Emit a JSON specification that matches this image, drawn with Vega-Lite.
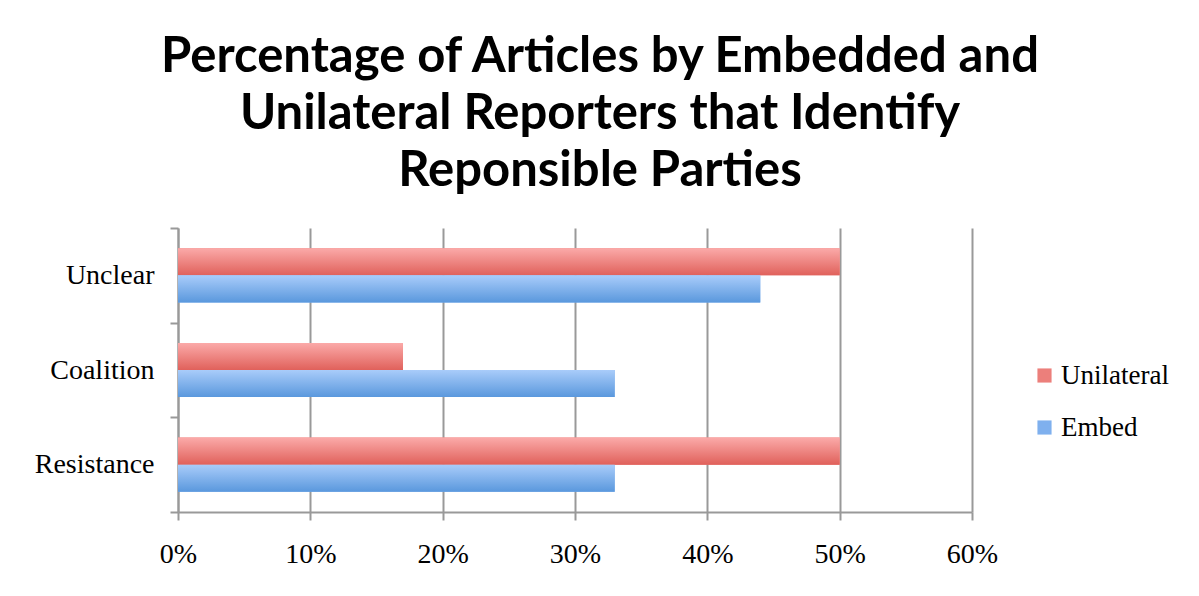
{
  "$schema": "https://vega.github.io/schema/vega-lite/v6.json",
  "width": 794,
  "height": 284,
  "autosize": "none",
  "padding": {"left": 178, "top": 228, "right": 227, "bottom": 84},
  "background": "white",
  "title": {
    "text": ["Percentage of Articles by Embedded and", "Unilateral Reporters that Identify", "Reponsible Parties"],
    "font": "Lato",
    "fontSize": 49,
    "fontWeight": "bold",
    "color": "black",
    "lineHeight": 57,
    "anchor": "middle",
    "dx": 25,
    "offset": 18
  },
  "data": {
    "values": [
      {"category": "Unclear", "series": "Unilateral", "value": 0.50},
      {"category": "Unclear", "series": "Embed", "value": 0.44},
      {"category": "Coalition", "series": "Unilateral", "value": 0.17},
      {"category": "Coalition", "series": "Embed", "value": 0.33},
      {"category": "Resistance", "series": "Unilateral", "value": 0.50},
      {"category": "Resistance", "series": "Embed", "value": 0.33}
    ]
  },
  "encoding": {
    "y": {
      "field": "category",
      "type": "nominal",
      "sort": ["Unclear", "Coalition", "Resistance"],
      "scale": {"paddingInner": 0, "paddingOuter": 0},
      "axis": {
        "title": null,
        "tickBand": "extent",
        "labelFont": "Liberation Serif",
        "labelFontSize": 28,
        "labelColor": "black",
        "labelPadding": 16,
        "tickSize": 8,
        "tickColor": "#999999",
        "tickWidth": 2,
        "domainColor": "#999999",
        "domainWidth": 2,
        "grid": false
      }
    },
    "yOffset": {
      "field": "series",
      "type": "nominal",
      "sort": ["Unilateral", "Embed"],
      "scale": {"paddingInner": 0, "paddingOuter": 0.75}
    },
    "x": {
      "field": "value",
      "type": "quantitative",
      "scale": {"domain": [0, 0.6]},
      "axis": {
        "title": null,
        "format": ".0%",
        "values": [0, 0.1, 0.2, 0.3, 0.4, 0.5, 0.6],
        "labelFlush": false,
        "labelFont": "Liberation Serif",
        "labelFontSize": 28,
        "labelColor": "black",
        "labelPadding": 20,
        "tickSize": 8,
        "tickColor": "#999999",
        "tickWidth": 2,
        "domainColor": "#999999",
        "domainWidth": 2,
        "grid": true,
        "gridColor": "#999999",
        "gridWidth": 2
      }
    }
  },
  "layer": [
    {
      "mark": {"type": "bar"},
      "encoding": {
        "color": {
          "field": "series",
          "type": "nominal",
          "sort": ["Unilateral", "Embed"],
          "scale": {"domain": ["Unilateral", "Embed"], "range": ["#ec7f7b", "#7fb0ee"]},
          "legend": {
            "title": null,
            "orient": "none",
            "legendX": 853,
            "legendY": 134,
            "symbolType": "square",
            "symbolSize": 200,
            "symbolStrokeWidth": 0,
            "labelFont": "Liberation Serif",
            "labelFontSize": 27,
            "labelColor": "black",
            "labelOffset": 3,
            "rowPadding": 24
          }
        }
      }
    },
    {
      "mark": {"type": "bar"},
      "encoding": {
        "color": {
          "condition": {
            "test": "datum.series === 'Unilateral'",
            "value": {"gradient": "linear", "x1": 0, "y1": 0, "x2": 0, "y2": 1, "stops": [{"offset": 0, "color": "#fbaaa9"}, {"offset": 1, "color": "#e0615b"}]}
          },
          "value": {"gradient": "linear", "x1": 0, "y1": 0, "x2": 0, "y2": 1, "stops": [{"offset": 0, "color": "#a9ccfa"}, {"offset": 1, "color": "#5a98dd"}]}
        }
      }
    }
  ],
  "config": {
    "view": {"stroke": null}
  }
}
